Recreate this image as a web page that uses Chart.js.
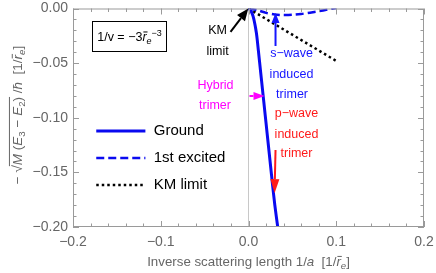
<!DOCTYPE html>
<html>
<head>
<meta charset="utf-8">
<script src="https://cdn.jsdelivr.net/npm/chart.js@4.4.0/dist/chart.umd.min.js"></script>
<style>
  body { margin: 0; background: #fff; }
  #wrap { width: 436px; height: 273px; }
</style>
</head>
<body>
<div id="wrap"><canvas id="trimerChart" width="436" height="273"></canvas></div>
<script>
// Du lieu doc tu hinh
var groundX = [0, 0.001, 0.002, 0.003, 0.004, 0.005, 0.006, 0.007, 0.008, 0.009, 0.010, 0.0125, 0.015, 0.0175, 0.020, 0.0225, 0.025, 0.0275, 0.030, 0.0333, 0.036];
var groundY = [0, -0.0004, -0.0012, -0.0025, -0.0042, -0.0065, -0.0095, -0.0132, -0.0175, -0.0225, -0.029, -0.048, -0.067, -0.086, -0.105, -0.124, -0.143, -0.162, -0.18, -0.2, -0.216];
var excitedX = [0, 0.01, 0.02, 0.03, 0.04, 0.05, 0.06, 0.07, 0.08, 0.09, 0.1];
var excitedY = [0, -0.0015, -0.004, -0.0055, -0.006, -0.0058, -0.005, -0.0038, -0.0025, -0.001, 0.0005];
var kmX = [0, 0.1];
var kmY = [0, -0.048];
var xTicks = [-0.2, -0.1, 0, 0.1, 0.2];
var yTicks = [0, -0.05, -0.1, -0.15, -0.2];
var seriesLabels = ['Ground', '1st excited', 'KM limit'];

var FONT = '"Liberation Sans", Arial, sans-serif';
var GRAY = '#666';

function toPoints(xs, ys) {
    return xs.map(function (x, i) { return {x: x, y: ys[i]}; });
}

function fmtMinus(v, d) {
    var s = Math.abs(v) < 1e-9 ? (0).toFixed(d) : v.toFixed(d);
    return s.replace('-', '\u2212');
}

// Ve chu co italic / chi so duoi / chi so tren / gach ngang
function partFont(p, size) {
    var s = (p.sub || p.sup) ? size * 0.72 : size;
    return (p.it ? 'italic ' : '') + s + 'px ' + FONT;
}
function richWidth(ctx, parts, size) {
    var w = 0;
    parts.forEach(function (p) {
        ctx.font = partFont(p, size);
        w += ctx.measureText(p.t).width;
    });
    return w;
}
function drawRich(ctx, parts, x, y, size, color) {
    var w = richWidth(ctx, parts, size);
    var cx = x - w / 2;
    ctx.fillStyle = color;
    ctx.strokeStyle = color;
    ctx.textAlign = 'left';
    ctx.textBaseline = 'alphabetic';
    var overStart = null, overEnd = null;
    parts.forEach(function (p) {
        ctx.font = partFont(p, size);
        var dy = p.sub ? size * 0.25 : (p.sup ? -size * 0.42 : 0);
        var pw = ctx.measureText(p.t).width;
        ctx.fillText(p.t, cx, y + dy);
        if (p.bar) {
            ctx.lineWidth = 1;
            ctx.beginPath();
            ctx.moveTo(cx + 1, y - size * 0.72);
            ctx.lineTo(cx + pw + 1, y - size * 0.72);
            ctx.stroke();
        }
        if (p.over) {
            if (overStart === null) overStart = cx;
            overEnd = cx + pw;
        }
        cx += pw;
    });
    if (overStart !== null) {
        ctx.lineWidth = 1;
        ctx.beginPath();
        ctx.moveTo(overStart - 1, y - size * 0.93);
        ctx.lineTo(overEnd, y - size * 0.93);
        ctx.stroke();
    }
}

function drawArrow(ctx, x1, y1, x2, y2, color, hl, hw) {
    var a = Math.atan2(y2 - y1, x2 - x1);
    var bx = x2 - hl * Math.cos(a), by = y2 - hl * Math.sin(a);
    ctx.strokeStyle = color;
    ctx.fillStyle = color;
    ctx.lineWidth = 2;
    ctx.setLineDash([]);
    ctx.beginPath();
    ctx.moveTo(x1, y1);
    ctx.lineTo(bx, by);
    ctx.stroke();
    ctx.beginPath();
    ctx.moveTo(x2, y2);
    ctx.lineTo(bx + hw / 2 * Math.sin(a), by - hw / 2 * Math.cos(a));
    ctx.lineTo(bx - hw / 2 * Math.sin(a), by + hw / 2 * Math.cos(a));
    ctx.closePath();
    ctx.fill();
}

// Chu thich va mui ten (toa do du lieu)
var notes = [
    {t: 'KM', x: -0.0353, y: -0.0206, c: '#000'},
    {t: 'limit', x: -0.0353, y: -0.0398, c: '#000'},
    {t: 'Hybrid', x: -0.0376, y: -0.0709, c: '#ff00ff'},
    {t: 'trimer', x: -0.0382, y: -0.089, c: '#ff00ff'},
    {t: 's\u2212wave', x: 0.049, y: -0.0416, c: '#1515ff'},
    {t: 'induced', x: 0.049, y: -0.06, c: '#1515ff'},
    {t: 'trimer', x: 0.0496, y: -0.079, c: '#1515ff'},
    {t: 'p\u2212wave', x: 0.0547, y: -0.0966, c: '#ff1a1a'},
    {t: 'induced', x: 0.0547, y: -0.115, c: '#ff1a1a'},
    {t: 'trimer', x: 0.0547, y: -0.1332, c: '#ff1a1a'}
];
var arrows = [
    {x1: -0.0205, y1: -0.0213, x2: -0.0002, y2: -0.0001, c: '#000', hl: 12, hw: 10},
    {x1: 0.0308, y1: -0.0343, x2: 0.0308, y2: -0.0041, c: '#1515ff', hl: 10, hw: 8},
    {x1: 0.0011, y1: -0.0801, x2: 0.0182, y2: -0.0801, c: '#ff00ff', hl: 11, hw: 8},
    {x1: 0.0308, y1: -0.1295, x2: 0.0297, y2: -0.169, c: '#ff1a1a', hl: 14, hw: 9}
];

var framePlugin = {
    id: 'framePlugin',
    afterDatasetsDraw: function (chart) {
        var ctx = chart.ctx, a = chart.chartArea;
        var xs = chart.scales.x, ys = chart.scales.y;
        ctx.save();
        // khung + vach chia huong vao trong
        ctx.strokeStyle = '#9a9a9a';
        ctx.lineWidth = 1;
        ctx.setLineDash([]);
        ctx.strokeRect(a.left + 0.5, a.top + 0.5, a.right - a.left - 1, a.bottom - a.top - 1);
        ctx.beginPath();
        for (var i = -20; i <= 20; i += 2) {
            var px = Math.round(xs.getPixelForValue(i / 100)) + 0.5;
            var len = (i % 10 === 0) ? 6 : 3.5;
            ctx.moveTo(px, a.bottom); ctx.lineTo(px, a.bottom - len);
            ctx.moveTo(px, a.top); ctx.lineTo(px, a.top + len);
        }
        for (var j = 0; j <= 20; j++) {
            var py = Math.round(ys.getPixelForValue(-j / 100)) + 0.5;
            var l2 = (j % 5 === 0) ? 6 : 3.5;
            ctx.moveTo(a.left, py); ctx.lineTo(a.left + l2, py);
            ctx.moveTo(a.right, py); ctx.lineTo(a.right - l2, py);
        }
        ctx.stroke();

        // hop cong thuc
        var bx1 = xs.getPixelForValue(-0.1778), bx2 = xs.getPixelForValue(-0.0934);
        var by1 = ys.getPixelForValue(-0.0114), by2 = ys.getPixelForValue(-0.0389);
        ctx.strokeStyle = '#000';
        ctx.strokeRect(Math.round(bx1) + 0.5, Math.round(by1) + 0.5, Math.round(bx2 - bx1), Math.round(by2 - by1));
        drawRich(ctx, [
            {t: '1/v = \u22123'}, {t: 'r', it: 1, bar: 1}, {t: 'e', it: 1, sub: 1}, {t: '\u22123', sup: 1}
        ], (bx1 + bx2) / 2, (by1 + by2) / 2 + 5, 12.5, '#000');

        // chu thich
        ctx.font = '12.5px ' + FONT;
        ctx.textAlign = 'center';
        ctx.textBaseline = 'middle';
        notes.forEach(function (n) {
            ctx.fillStyle = n.c;
            ctx.fillText(n.t, xs.getPixelForValue(n.x), ys.getPixelForValue(n.y));
        });
        arrows.forEach(function (r) {
            drawArrow(ctx, xs.getPixelForValue(r.x1), ys.getPixelForValue(r.y1),
                xs.getPixelForValue(r.x2), ys.getPixelForValue(r.y2), r.c, r.hl, r.hw);
        });

        // chu giai
        chart.data.datasets.forEach(function (ds, k) {
            var ly = ys.getPixelForValue(-0.1122 - k * 0.0247);
            ctx.strokeStyle = ds.borderColor;
            ctx.lineWidth = ds.borderWidth;
            ctx.setLineDash(ds.borderDash || []);
            ctx.beginPath();
            ctx.moveTo(xs.getPixelForValue(-0.1735), ly);
            ctx.lineTo(xs.getPixelForValue(-0.1175), ly);
            ctx.stroke();
            ctx.setLineDash([]);
            ctx.fillStyle = '#000';
            ctx.font = '15px ' + FONT;
            ctx.textAlign = 'left';
            ctx.textBaseline = 'middle';
            ctx.fillText(ds.label, xs.getPixelForValue(-0.108), ly);
        });

        // tieu de truc
        drawRich(ctx, [
            {t: 'Inverse scattering length 1/'}, {t: 'a', it: 1}, {t: '  [1/'}, {t: 'r', it: 1, bar: 1}, {t: 'e', it: 1, sub: 1}, {t: ']'}
        ], (a.left + a.right) / 2, 266, 13.3, GRAY);

        ctx.translate(17, 115);
        ctx.rotate(-Math.PI / 2);
        drawRich(ctx, [
            {t: '\u2212 '}, {t: '\u221A'}, {t: 'M', it: 1, over: 1}, {t: ' (', over: 1}, {t: 'E', it: 1, over: 1}, {t: '3', sub: 1, over: 1},
            {t: ' \u2212 ', over: 1}, {t: 'E', it: 1, over: 1}, {t: '2', sub: 1, over: 1}, {t: ')', over: 1},
            {t: ' /'}, {t: '\u0127', it: 1}, {t: '  [1/'}, {t: 'r', it: 1, bar: 1}, {t: 'e', it: 1, sub: 1}, {t: ']'}
        ], 0, 5, 13.5, GRAY);
        ctx.restore();
    }
};

new Chart(document.getElementById('trimerChart'), {
    type: 'line',
    data: {
        datasets: [{
                label: seriesLabels[0],
                data: toPoints(groundX, groundY),
                borderColor: '#0a0af0',
                borderWidth: 3,
                pointRadius: 0,
                tension: 0.2
            }, {
                label: seriesLabels[1],
                data: toPoints(excitedX, excitedY),
                borderColor: '#0a0af0',
                borderWidth: 2.5,
                borderDash: [8, 4],
                pointRadius: 0,
                tension: 0.3
            }, {
                label: seriesLabels[2],
                data: toPoints(kmX, kmY),
                borderColor: '#000',
                borderWidth: 2.5,
                borderDash: [2.5, 3],
                pointRadius: 0
            }]
    },
    options: {
        responsive: false,
        animation: false,
        layout: {padding: {left: 0, top: 8.5, right: 12, bottom: 0}},
        plugins: {legend: {display: false}, tooltip: {enabled: false}},
        scales: {
            x: {
                type: 'linear',
                min: -0.2,
                max: 0.2,
                afterBuildTicks: function (s) { s.ticks = xTicks.map(function (v) { return {value: v}; }); },
                afterFit: function (s) { s.height = 46; s.paddingLeft = 0; s.paddingRight = 0; },
                border: {display: false},
                grid: {
                    drawTicks: false,
                    color: function (c) { return c.tick && Math.abs(c.tick.value) < 1e-9 ? '#c8c8c8' : 'rgba(0,0,0,0)'; }
                },
                ticks: {
                    padding: 7,
                    color: GRAY,
                    font: {family: FONT, size: 14},
                    callback: function (v) { return fmtMinus(v, 1); }
                }
            },
            y: {
                type: 'linear',
                min: -0.2,
                max: 0,
                afterBuildTicks: function (s) { s.ticks = yTicks.map(function (v) { return {value: v}; }); },
                afterFit: function (s) { s.width = 73; s.paddingTop = 0; s.paddingBottom = 0; },
                border: {display: false},
                grid: {display: false, drawTicks: false},
                ticks: {
                    padding: 5,
                    color: GRAY,
                    font: {family: FONT, size: 14},
                    callback: function (v) { return fmtMinus(v, 2); }
                }
            }
        }
    },
    plugins: [framePlugin]
});
</script>
</body>
</html>
